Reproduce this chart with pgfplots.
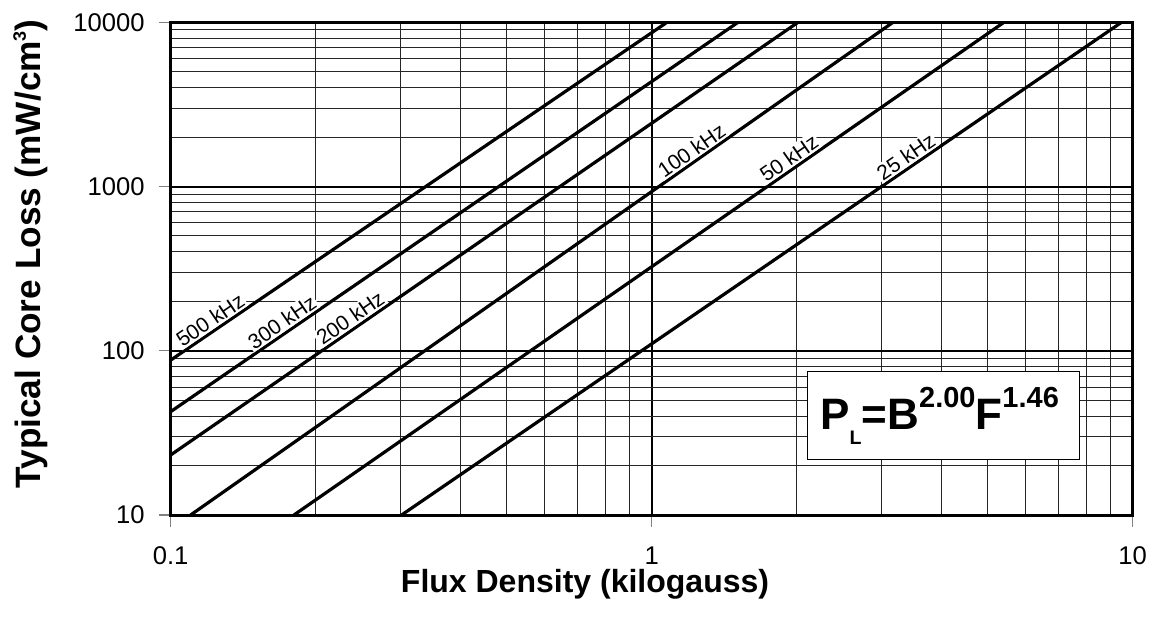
\documentclass[border=0pt]{standalone}
\usepackage{pgfplots}
\pgfplotsset{compat=1.18}
\usepackage{fontspec}
\setmainfont{Liberation Sans}
\tikzset{lbl/.style={sloped, anchor=south, inner sep=0.8pt, fill=white, font=\fontsize{10.5}{10.5}\selectfont, yshift=0pt}}
\begin{document}
\begin{tikzpicture}
\useasboundingbox (-85.35pt,-57pt) rectangle (490.15pt,257.5pt);
\begin{axis}[
  at={(0,0)}, anchor=south west,
  scale only axis, width=481pt, height=246.35pt,
  xmode=log, ymode=log,
  xmin=0.1, xmax=10, ymin=10, ymax=10000,
  xtick={0.1,1,10}, xticklabels={0.1,1,10},
  ytick={10,100,1000,10000}, yticklabels={10,100,1000,10000},
  minor xtick={0.2,0.3,0.4,0.5,0.6,0.7,0.8,0.9,2,3,4,5,6,7,8,9},
  minor ytick={20,30,40,50,60,70,80,90,200,300,400,500,600,700,800,900,2000,3000,4000,5000,6000,7000,8000,9000},
  xtick pos=bottom, ytick pos=left,
  grid=both,
  major grid style={black, line width=1pt},
  minor grid style={black!85, line width=0.5pt},
  axis line style={black, line width=1.5pt},
  tick align=outside,
  major tick length=6pt, minor tick length=0pt,
  every tick/.style={gray, line width=0.6pt},
  tick label style={font=\fontsize{12.8}{12.8}\selectfont},
  yticklabel style={xshift=-3.5pt},
  xticklabel style={yshift=-6.5pt},
  xlabel={Flux Density (kilogauss)},
  ylabel={Typical Core Loss (mW/cm\raisebox{0.42em}{\fontsize{9}{9}\selectfont 3})},
  xlabel style={at={(axis description cs:0.4307,-0.1563)}, anchor=base, font=\fontsize{16}{16}\selectfont\bfseries},
  ylabel style={at={(axis description cs:-0.1455,0.5300)}, anchor=center, font=\fontsize{17.6}{17.6}\selectfont\bfseries},
]
\addplot[black, line width=1.6pt] coordinates {(0.1,87.7) (1.076,10000)} node[lbl, pos=0.092] {500 kHz};
\addplot[black, line width=1.6pt] coordinates {(0.1,42.6) (1.512,10000)} node[lbl, pos=0.207] {300 kHz};
\addplot[black, line width=1.6pt] coordinates {(0.1,23.2) (2.015,10000)} node[lbl, pos=0.296] {200 kHz};
\addplot[black, line width=1.6pt] coordinates {(0.110,10) (3.175,10000)} node[lbl, pos=0.722] {100 kHz};
\addplot[black, line width=1.6pt] coordinates {(0.1804,10) (5.40,10000)} node[lbl, pos=0.706] {50 kHz};
\addplot[black, line width=1.6pt] coordinates {(0.302,10) (9.48,10000)} node[lbl, pos=0.709] {25 kHz};
\node[draw=black, line width=0.5pt, fill=white, minimum width=136pt, minimum height=44.15pt, inner sep=0pt] at (axis cs:4.04,40.5) {};
\node[anchor=base west, inner sep=0pt, font=\bfseries] at (axis cs:2.238,33.24)
  {\fontsize{22}{22}\selectfont P\raisebox{-7.35pt}{\fontsize{9.8}{9.8}\selectfont L}=B\raisebox{11pt}{\fontsize{14.5}{14.5}\selectfont 2.00}F\raisebox{11pt}{\fontsize{14.5}{14.5}\selectfont 1.46}};
\end{axis}
\end{tikzpicture}
\end{document}
